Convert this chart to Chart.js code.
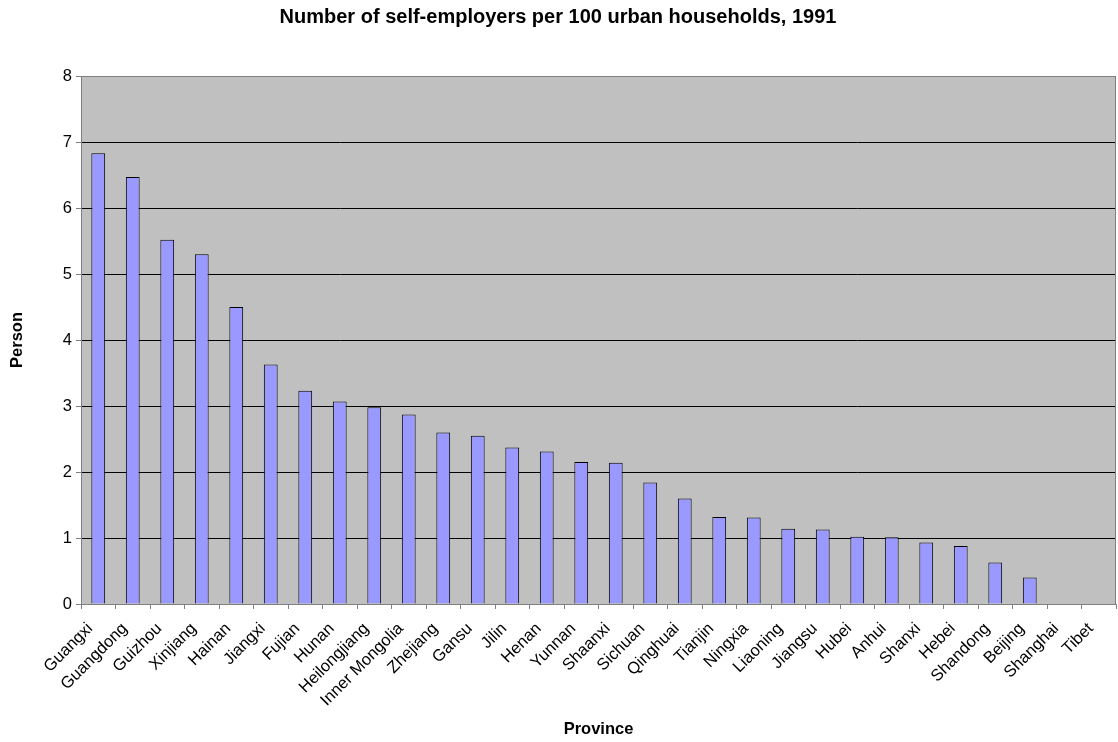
<!DOCTYPE html>
<html>
<head>
<meta charset="utf-8">
<script src="https://cdn.jsdelivr.net/npm/chart.js@4/dist/chart.umd.min.js"></script>
<style>
  html, body { margin: 0; padding: 0; background: #ffffff; }
  #wrap { width: 1118px; height: 742px; }
</style>
</head>
<body>
<div id="wrap"><canvas id="chart" width="1118" height="742"></canvas></div>
<script>
// Provinces, ordered by self-employers per 100 urban households
const categories = [
  'Guangxi', 'Guangdong', 'Guizhou', 'Xinjiang', 'Hainan', 'Jiangxi', 'Fujian',
  'Hunan', 'Heilongjiang', 'Inner Mongolia', 'Zhejiang', 'Gansu', 'Jilin', 'Henan',
  'Yunnan', 'Shaanxi', 'Sichuan', 'Qinghuai', 'Tianjin', 'Ningxia', 'Liaoning',
  'Jiangsu', 'Hubei', 'Anhui', 'Shanxi', 'Hebei', 'Shandong', 'Beijing',
  'Shanghai', 'Tibet'
];

// Persons per 100 urban households (no value for Shanghai and Tibet)
const selfEmployers = [
  6.83, 6.47, 5.52, 5.30, 4.50, 3.63, 3.23,
  3.07, 2.98, 2.87, 2.60, 2.55, 2.37, 2.31,
  2.15, 2.14, 1.84, 1.60, 1.32, 1.31, 1.14,
  1.13, 1.02, 1.01, 0.93, 0.88, 0.63, 0.40,
  null, null
];

const yTicks = [0, 1, 2, 3, 4, 5, 6, 7, 8];

const FONT = "'Liberation Sans', Arial, sans-serif";

// Grey plot area with a thin frame
const plotBackground = {
  id: 'plotBackground',
  beforeDraw(chart) {
    const { ctx, chartArea: a } = chart;
    ctx.save();
    ctx.fillStyle = '#c0c0c0';
    ctx.fillRect(a.left, a.top, a.right - a.left, a.bottom - a.top);
    ctx.restore();
  },
  afterDraw(chart) {
    const { ctx, chartArea: a } = chart;
    ctx.save();
    ctx.strokeStyle = '#808080';
    ctx.lineWidth = 1;
    ctx.beginPath();
    ctx.moveTo(Math.round(a.left) + 0.5, Math.round(a.top) + 0.5);
    ctx.lineTo(Math.round(a.right) - 0.5, Math.round(a.top) + 0.5);
    ctx.lineTo(Math.round(a.right) - 0.5, Math.round(a.bottom) + 0.5);
    ctx.stroke();
    ctx.restore();
  }
};

new Chart(document.getElementById('chart'), {
  type: 'bar',
  data: {
    labels: categories,
    datasets: [{
      label: 'Person',
      data: selfEmployers,
      backgroundColor: '#9999ff',
      borderColor: '#000000',
      borderWidth: 1,
      barPercentage: 0.4,
      categoryPercentage: 1.0
    }]
  },
  options: {
    responsive: false,
    animation: false,
    layout: { padding: { left: 0, right: 2, top: 0, bottom: 0 } },
    plugins: {
      legend: { display: false },
      tooltip: { enabled: false },
      title: {
        display: true,
        text: 'Number of self-employers per 100 urban households, 1991',
        color: '#000000',
        font: { family: FONT, size: 20, weight: 'bold' },
        padding: { top: 5, bottom: 47 }
      }
    },
    scales: {
      x: {
        offset: true,
        grid: {
          display: true,
          offset: true,
          drawOnChartArea: false,
          tickLength: 5,
          tickColor: '#808080'
        },
        border: { color: '#808080', width: 1 },
        ticks: {
          autoSkip: false,
          minRotation: 45,
          maxRotation: 45,
          padding: 10,
          labelOffset: -8,
          color: '#000000',
          font: { family: FONT, size: 16.5 }
        },
        title: {
          display: true,
          text: 'Province',
          color: '#000000',
          font: { family: FONT, size: 16.5, weight: 'bold' },
          padding: { top: 4, bottom: 3 }
        },
        afterFit(scale) {
          scale.height = 138;
          scale.paddingLeft = 0;
          scale.paddingRight = 0;
        }
      },
      y: {
        min: 0,
        max: 8,
        afterBuildTicks(scale) { scale.ticks = yTicks.map(v => ({ value: v })); },
        grid: {
          color: ctx => (ctx.tick && ctx.tick.value === 8 ? '#808080' : '#000000'),
          lineWidth: 1,
          tickLength: 5,
          tickColor: '#808080'
        },
        border: { color: '#808080', width: 1 },
        ticks: {
          padding: 4,
          color: '#000000',
          font: { family: FONT, size: 16.5 }
        },
        title: {
          display: true,
          text: 'Person',
          color: '#000000',
          font: { family: FONT, size: 16.5, weight: 'bold' },
          padding: { top: 8, bottom: 0 }
        },
        afterFit(scale) { scale.width = 81; }
      }
    }
  },
  plugins: [plotBackground]
});
</script>
</body>
</html>
